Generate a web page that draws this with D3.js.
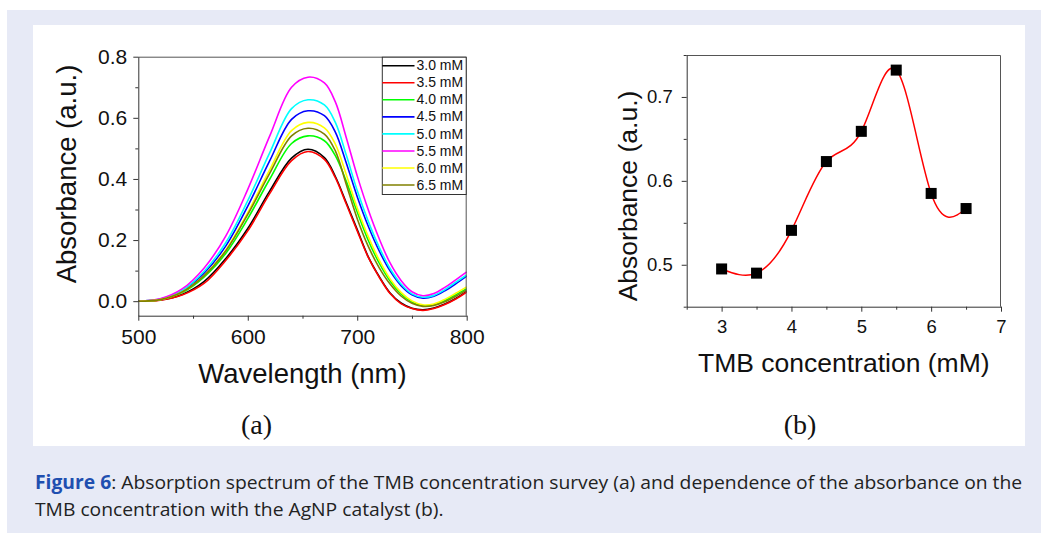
<!DOCTYPE html>
<html>
<head>
<meta charset="utf-8">
<script src="https://cdn.jsdelivr.net/npm/d3@7"></script>
<style>
  body { margin: 0; background: #fff; }
  svg { display: block; }
</style>
</head>
<body>
<svg id="fig" width="1041" height="533"></svg>
<script>
// ---- Panel (a): absorption spectra for each TMB concentration ----
const wavelengths = [500, 520, 540, 560, 580, 600, 620, 640, 655, 670, 680, 690, 700, 710, 720, 730, 740, 750, 760, 770, 780, 790, 800];

const abs30 = [0.000, 0.004, 0.022, 0.064, 0.140, 0.238, 0.360, 0.468, 0.497, 0.470, 0.408, 0.322, 0.234, 0.146, 0.081, 0.027, -0.006, -0.023, -0.028, -0.022, -0.009, 0.009, 0.032];
const abs35 = [0.000, 0.003, 0.020, 0.058, 0.134, 0.230, 0.352, 0.460, 0.490, 0.464, 0.404, 0.318, 0.230, 0.144, 0.079, 0.025, -0.008, -0.024, -0.030, -0.024, -0.011, 0.007, 0.030];
const abs40 = [0.000, 0.005, 0.028, 0.079, 0.157, 0.270, 0.399, 0.516, 0.541, 0.525, 0.476, 0.392, 0.292, 0.200, 0.125, 0.066, 0.024, -0.003, -0.015, -0.012, 0.002, 0.021, 0.041];
const abs45 = [0.000, 0.006, 0.033, 0.091, 0.181, 0.311, 0.459, 0.595, 0.623, 0.607, 0.553, 0.452, 0.342, 0.246, 0.165, 0.099, 0.051, 0.021, 0.010, 0.016, 0.034, 0.057, 0.082];
const abs50 = [0.000, 0.007, 0.035, 0.097, 0.192, 0.329, 0.485, 0.630, 0.659, 0.642, 0.585, 0.478, 0.362, 0.262, 0.177, 0.107, 0.056, 0.024, 0.013, 0.019, 0.038, 0.062, 0.086];
const abs55 = [0.000, 0.008, 0.040, 0.108, 0.214, 0.366, 0.540, 0.700, 0.733, 0.714, 0.652, 0.535, 0.410, 0.300, 0.205, 0.125, 0.068, 0.031, 0.018, 0.025, 0.045, 0.070, 0.096];
const abs60 = [0.000, 0.005, 0.030, 0.084, 0.168, 0.290, 0.430, 0.558, 0.585, 0.567, 0.514, 0.414, 0.305, 0.212, 0.135, 0.073, 0.029, 0.001, -0.012, -0.009, 0.006, 0.026, 0.047];
const abs65 = [0.000, 0.005, 0.030, 0.083, 0.165, 0.284, 0.418, 0.541, 0.566, 0.547, 0.492, 0.382, 0.270, 0.180, 0.110, 0.056, 0.017, -0.007, -0.017, -0.014, -0.002, 0.016, 0.037];

const seriesLabels = ["3.0 mM", "3.5 mM", "4.0 mM", "4.5 mM", "5.0 mM", "5.5 mM", "6.0 mM", "6.5 mM"];
const seriesColors = ["#000000", "#ff0000", "#00ff00", "#0000ff", "#00ffff", "#ff00ff", "#ffff00", "#808000"];

const spectrumXTicks = [500, 600, 700, 800];
const spectrumXMinor = [550, 650, 750];
const spectrumYTicks = [0.0, 0.2, 0.4, 0.6, 0.8];
const spectrumYMinor = [0.1, 0.3, 0.5, 0.7];

// ---- Panel (b): peak absorbance versus TMB concentration ----
const tmbConc = [3.0, 3.5, 4.0, 4.5, 5.0, 5.5, 6.0, 6.5];
const tmbAbs = [0.495, 0.490, 0.541, 0.623, 0.659, 0.732, 0.585, 0.567];

const concXTicks = [3, 4, 5, 6, 7];
const concXMinor = [2.5, 3.5, 4.5, 5.5, 6.5];
const concYTicks = [0.5, 0.6, 0.7];
const concYMinor = [0.45, 0.55, 0.65, 0.75];

// ---------------------------------------------------------------
const svg = d3.select("#fig");
const sans = "'Liberation Sans', Arial, Helvetica, sans-serif";
const serif = "'Liberation Serif', 'Times New Roman', serif";
const axisColor = "#333";

// page background and white figure panel
svg.append("rect").attr("x", 7).attr("y", 10).attr("width", 1034).attr("height", 523).attr("fill", "#e7eaf6");
svg.append("rect").attr("x", 33).attr("y", 25).attr("width", 992).attr("height", 421).attr("fill", "#ffffff");

function styleAxis(g, fontSize) {
  g.selectAll("path.domain").attr("stroke", axisColor).attr("stroke-width", 1);
  g.selectAll(".tick line").attr("stroke", axisColor).attr("stroke-width", 1);
  g.selectAll(".tick text").attr("font-family", sans).attr("font-size", fontSize).attr("fill", "#111");
}

function drawAxes(x, y, box, opt) {
  const g = svg.append("g");
  // frame top + right
  g.append("path")
    .attr("d", `M${box.left},${box.top + 0.5}H${box.right - 0.5}V${box.bottom}`)
    .attr("fill", "none").attr("stroke", "#555").attr("stroke-width", 1);

  const xa = g.append("g").attr("transform", `translate(0,${box.bottom})`)
    .call(d3.axisBottom(x).tickValues(opt.xTicks).tickSize(5).tickSizeOuter(0)
      .tickPadding(opt.xPad).tickFormat(opt.xFormat));
  styleAxis(xa, opt.font);
  const xm = g.append("g").attr("transform", `translate(0,${box.bottom})`)
    .call(d3.axisBottom(x).tickValues(opt.xMinor).tickSize(3).tickFormat(""));
  xm.select(".domain").remove();
  styleAxis(xm, opt.font);

  const ya = g.append("g").attr("transform", `translate(${box.left},0)`)
    .call(d3.axisLeft(y).tickValues(opt.yTicks).tickSize(5).tickSizeOuter(0)
      .tickPadding(opt.yPad).tickFormat(d3.format(".1f")));
  styleAxis(ya, opt.font);
  const ym = g.append("g").attr("transform", `translate(${box.left},0)`)
    .call(d3.axisLeft(y).tickValues(opt.yMinor).tickSize(3).tickFormat(""));
  ym.select(".domain").remove();
  styleAxis(ym, opt.font);
  return g;
}

// ---------------- Panel (a) ----------------
const A = { left: 138.3, right: 466.7, top: 56.7, bottom: 315.7 };
const xA = d3.scaleLinear().domain([500, 800]).range([A.left, A.right]);
const yA = d3.scaleLinear().domain([-0.0475, 0.8]).range([A.bottom, A.top]);

const spectra = [abs30, abs35, abs40, abs45, abs50, abs55, abs60, abs65].map((vals, i) => ({
  label: seriesLabels[i], color: seriesColors[i], values: vals
}));

const spectrumLine = d3.line()
  .x((d, i) => xA(wavelengths[i]))
  .y(d => yA(d))
  .curve(d3.curveCatmullRom.alpha(0.5));

svg.append("g").selectAll("path").data(spectra).join("path")
  .attr("d", d => spectrumLine(d.values))
  .attr("fill", "none")
  .attr("stroke", d => d.color)
  .attr("stroke-width", 1.6);

drawAxes(xA, yA, A, {
  xTicks: spectrumXTicks, xMinor: spectrumXMinor, yTicks: spectrumYTicks, yMinor: spectrumYMinor,
  xFormat: d3.format("d"), font: 21, xPad: 8, yPad: 6
});

// legend
const legend = svg.append("g");
const lgX = 382.3, lgY = 56.7, lgW = A.right - lgX, lgH = 137.3, lgStep = 17.05;
legend.append("rect").attr("x", lgX).attr("y", lgY + 0.5).attr("width", lgW - 0.5).attr("height", lgH)
  .attr("fill", "#fff").attr("stroke", axisColor).attr("stroke-width", 1);
spectra.forEach((s, i) => {
  const yy = 65.7 + i * lgStep;
  legend.append("line").attr("x1", lgX).attr("x2", 414.5).attr("y1", yy).attr("y2", yy)
    .attr("stroke", s.color).attr("stroke-width", 1.6);
  legend.append("text").attr("x", 416.5).attr("y", yy + 4.6)
    .attr("font-family", sans).attr("font-size", 14).attr("fill", "#111").text(s.label);
});

svg.append("text").attr("transform", "translate(76,174) rotate(-90)")
  .attr("text-anchor", "middle").attr("font-family", sans).attr("font-size", 27.5).attr("fill", "#111")
  .text("Absorbance (a.u.)");
svg.append("text").attr("x", 302.5).attr("y", 383)
  .attr("text-anchor", "middle").attr("font-family", sans).attr("font-size", 27.5).attr("fill", "#111")
  .text("Wavelength (nm)");
svg.append("text").attr("x", 256.5).attr("y", 434)
  .attr("text-anchor", "middle").attr("font-family", serif).attr("font-size", 28).attr("fill", "#111")
  .text("(a)");

// ---------------- Panel (b) ----------------
const B = { left: 686.7, right: 1001, top: 55, bottom: 306.7 };
const xB = d3.scaleLinear().domain([2.5, 7]).range([B.left, B.right]);
const yB = d3.scaleLinear().domain([0.45, 0.75]).range([B.bottom, B.top]);

drawAxes(xB, yB, B, {
  xTicks: concXTicks, xMinor: concXMinor, yTicks: concYTicks, yMinor: concYMinor,
  xFormat: d3.format("d"), font: 18.5, xPad: 8.5, yPad: 9
});

const concPoints = tmbConc.map((c, i) => ({ c, a: tmbAbs[i] }));
svg.append("path")
  .attr("d", d3.line().x(d => xB(d.c)).y(d => yB(d.a)).curve(d3.curveNatural)(concPoints))
  .attr("fill", "none").attr("stroke", "#ff0000").attr("stroke-width", 1.5);

const sq = 11;
svg.append("g").selectAll("rect").data(concPoints).join("rect")
  .attr("x", d => xB(d.c) - sq / 2).attr("y", d => yB(d.a) - sq / 2)
  .attr("width", sq).attr("height", sq).attr("fill", "#000");

svg.append("text").attr("transform", "translate(637,196) rotate(-90)")
  .attr("text-anchor", "middle").attr("font-family", sans).attr("font-size", 26.5).attr("fill", "#111")
  .text("Absorbance (a.u.)");
svg.append("text").attr("x", 843.8).attr("y", 371.5)
  .attr("text-anchor", "middle").attr("font-family", sans).attr("font-size", 26.5).attr("fill", "#111")
  .text("TMB concentration (mM)");
svg.append("text").attr("x", 800).attr("y", 434)
  .attr("text-anchor", "middle").attr("font-family", serif).attr("font-size", 28).attr("fill", "#111")
  .text("(b)");

// ---------------- Caption ----------------
const capFont = "'Open Sans', 'Noto Sans', sans-serif";
const cap1 = svg.append("text").attr("font-family", capFont).attr("font-size", 19).attr("fill", "#222");
cap1.append("tspan").attr("font-weight", "bold").attr("fill", "#1f4fb0").text("Figure 6");
cap1.append("tspan").text(": Absorption spectrum of the TMB concentration survey (a) and dependence of the absorbance on the");
const cap2 = svg.append("text").attr("font-family", capFont).attr("font-size", 19).attr("fill", "#222")
  .text("TMB concentration with the AgNP catalyst (b).");

// condense the caption horizontally to fit the line width
const w1 = cap1.node().getComputedTextLength();
const sx = 988 / w1;
cap1.attr("transform", `translate(35,489) scale(${sx},1)`);
cap2.attr("transform", `translate(35,516) scale(${sx},1)`);
</script>
</body>
</html>
